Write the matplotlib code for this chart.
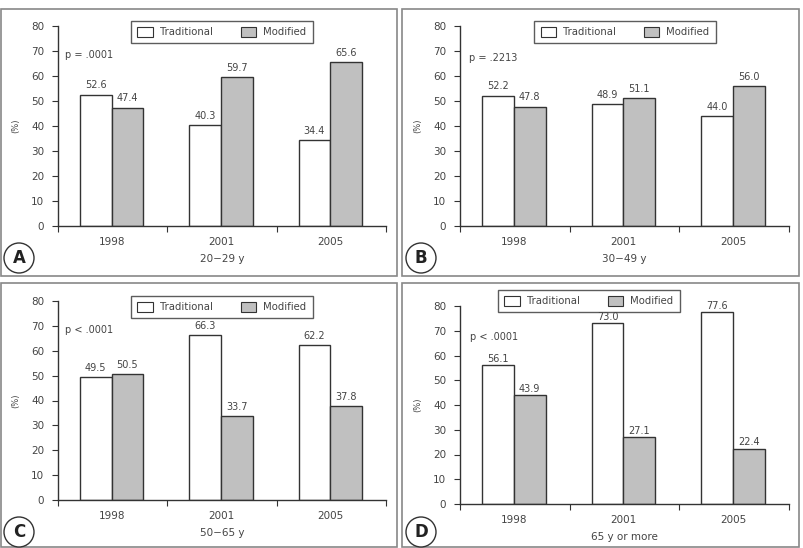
import matplotlib.pyplot as plt
from matplotlib.patches import Rectangle, Ellipse, Patch

years = ["1998", "2001", "2005"]
series_names = ["Traditional", "Modified"]

trad_a = [52.6, 40.3, 34.4]
mod_a = [47.4, 59.7, 65.6]
trad_b = [52.2, 48.9, 44.0]
mod_b = [47.8, 51.1, 56.0]
trad_c = [49.5, 66.3, 62.2]
mod_c = [50.5, 33.7, 37.8]
trad_d = [56.1, 73.0, 77.6]
mod_d = [43.9, 27.1, 22.4]

letters = ["A", "B", "C", "D"]
age_groups = ["20\u221229 y", "30\u221249 y", "50\u221265 y", "65 y or more"]
p_values = ["p = .0001", "p = .2213", "p < .0001", "p < .0001"]

W, H = 804, 548
TXT = "#444444"
EDGE = "#333333"
GRAY = "#c0c0c0"

fig = plt.figure(figsize=(W / 100, H / 100), dpi=100)
plt.rcParams["font.family"] = "DejaVu Sans"


def fx(px):
    return px / W


def fy(py):
    return 1 - py / H


# panel frames: (left, top, right, bottom) in pixels
frames = [(1, 9, 397, 276), (402, 9, 799, 276), (1, 283, 397, 547), (402, 283, 799, 547)]
for l, t, r, b in frames:
    fig.add_artist(Rectangle((fx(l), fy(b)), fx(r - l), (b - t) / H,
                             transform=fig.transFigure, fill=False,
                             ec="#888888", lw=1.2))

# axes boxes: (x0, y_top, x1, y_bottom) in pixels
axes_px = [(58, 26, 386, 226), (460, 26, 789, 226), (58, 301, 386, 500), (460, 306, 789, 504)]
legend_px = [(222, 32), (625, 32), (222, 307), (589, 301)]
p_px = [(65, 55), (469, 58), (65, 330), (470, 337)]
circle_px = [(19, 258), (421, 258), (19, 532), (421, 532)]
label_offset = [3, 3, 3, 1]

data = [(trad_a, mod_a), (trad_b, mod_b), (trad_c, mod_c), (trad_d, mod_d)]

bw = 0.29
centers = [0.49, 1.49, 2.49]

for i, (trad, mod) in enumerate(data):
    x0, yt, x1, yb = axes_px[i]
    ax = fig.add_axes([fx(x0), fy(yb), fx(x1 - x0), (yb - yt) / H])
    bars_t = ax.bar([c - bw / 2 for c in centers], trad, width=bw,
                    color="white", edgecolor=EDGE, linewidth=1)
    bars_m = ax.bar([c + bw / 2 for c in centers], mod, width=bw,
                    color=GRAY, edgecolor=EDGE, linewidth=1)
    for bars, vals in ((bars_t, trad), (bars_m, mod)):
        for bar, v in zip(bars, vals):
            ax.annotate(f"{v:.1f}", (bar.get_x() + bar.get_width() / 2, v),
                        xytext=(0, label_offset[i]), textcoords="offset points",
                        ha="center", va="bottom", fontsize=7, color=TXT)

    ax.set_xlim(0, 3)
    ax.set_ylim(0, 80)
    ax.set_yticks(range(0, 81, 10))
    ax.set_xticks([0, 1, 2, 3])
    ax.set_xticklabels([])
    ax.set_xticks(centers, minor=True)
    ax.set_xticklabels(years, minor=True)
    ax.tick_params(axis="x", which="minor", length=0, pad=8, labelsize=7.5, labelcolor=TXT)
    ax.tick_params(axis="x", which="major", length=4, color=EDGE, direction="out")
    ax.tick_params(axis="y", length=4, color=EDGE, labelsize=7.5, labelcolor=TXT, pad=6)
    for s in ("top", "right"):
        ax.spines[s].set_visible(False)
    for s in ("left", "bottom"):
        ax.spines[s].set_color(EDGE)
        ax.spines[s].set_linewidth(1)
    ax.set_xlabel(age_groups[i], fontsize=7.5, color=TXT, labelpad=5)
    ax.set_ylabel("(%)", fontsize=6, color=TXT, labelpad=8)

    handles = [Patch(facecolor="white", edgecolor=EDGE, lw=0.8),
               Patch(facecolor=GRAY, edgecolor=EDGE, lw=0.8)]
    lx, ly = legend_px[i]
    leg = ax.legend(handles, series_names, loc="center",
                    bbox_to_anchor=(fx(lx), fy(ly)), bbox_transform=fig.transFigure,
                    ncol=2, fontsize=7.3, frameon=True, fancybox=False,
                    handlelength=1.5, handleheight=1.1, handletextpad=0.7,
                    columnspacing=2.8, borderpad=0.6, labelcolor=TXT)
    leg.get_frame().set_edgecolor(EDGE)
    leg.get_frame().set_linewidth(1)

    px_, py_ = p_px[i]
    fig.text(fx(px_), fy(py_), p_values[i], fontsize=7, color=TXT, ha="left", va="center")

    cx, cy = circle_px[i]
    fig.add_artist(Ellipse((fx(cx), fy(cy)), 30 / W, 30 / H, transform=fig.transFigure,
                           fc="white", ec=EDGE, lw=1))
    fig.text(fx(cx), fy(cy), letters[i], fontsize=12, fontweight="bold",
             ha="center", va="center", color="#222222")

fig.savefig("out.png", dpi=100)
